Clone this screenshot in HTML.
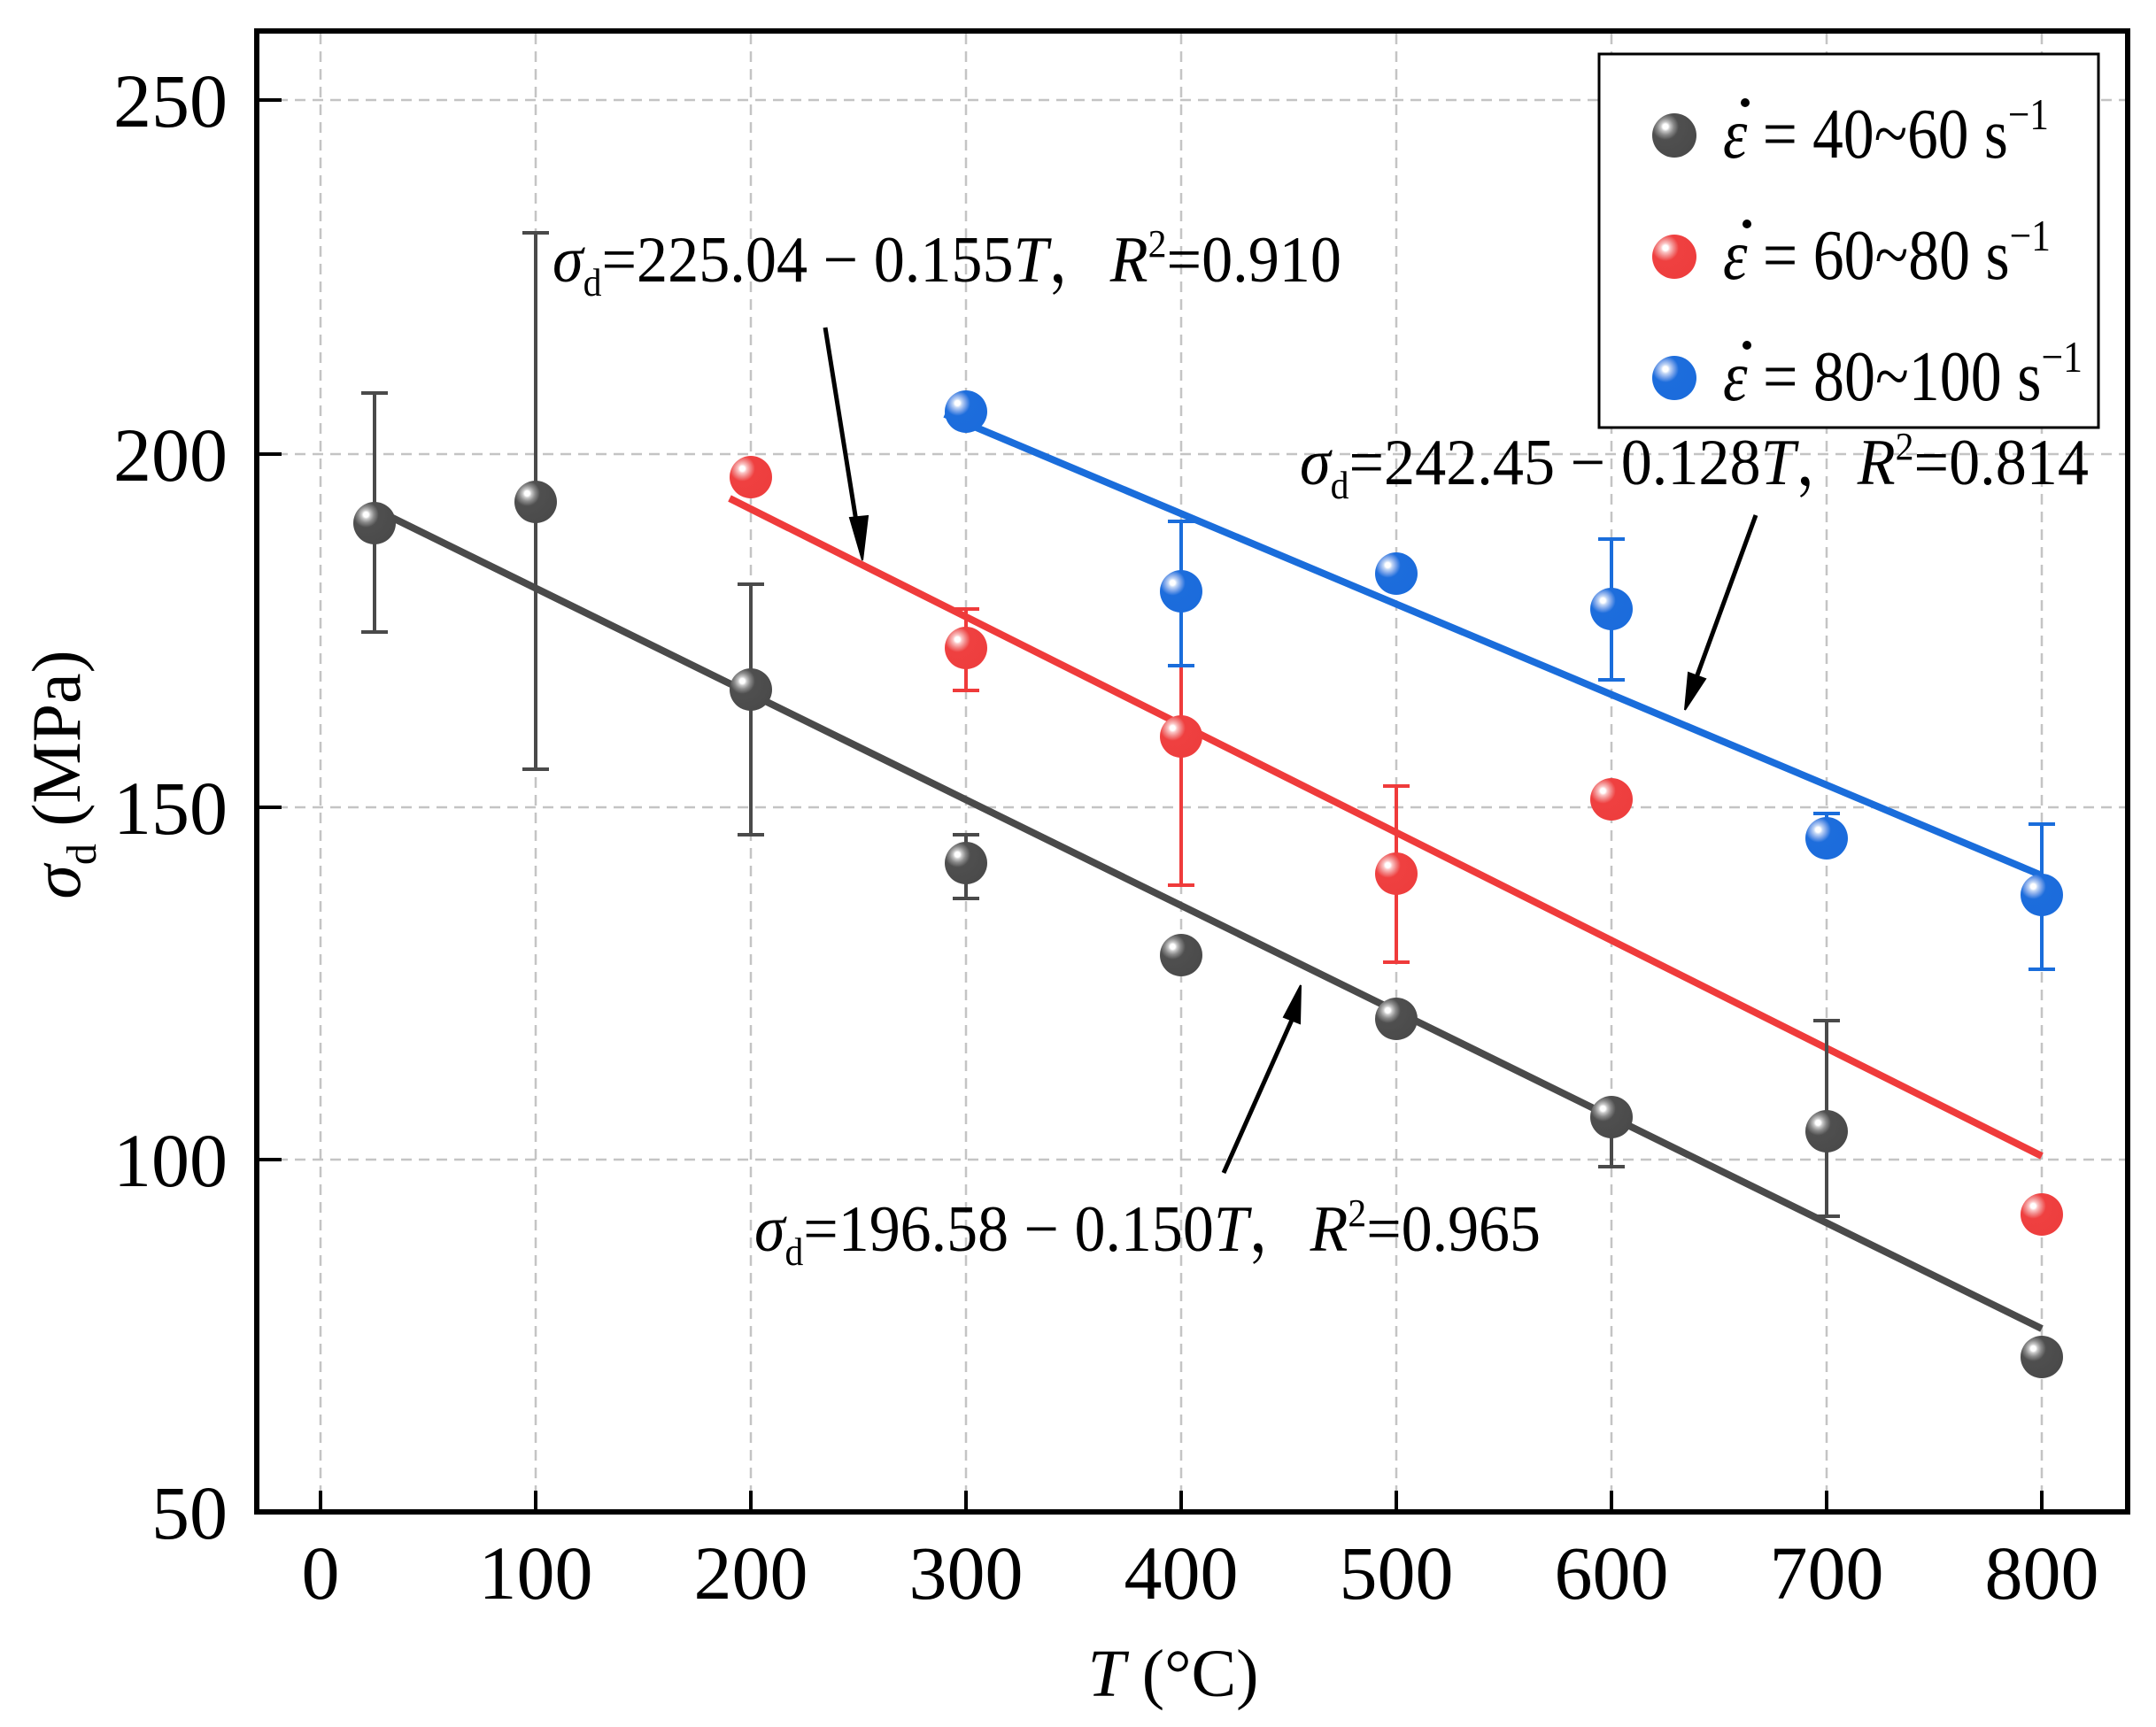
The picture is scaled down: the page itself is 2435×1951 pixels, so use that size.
<!DOCTYPE html>
<html><head><meta charset="utf-8"><style>html,body{margin:0;padding:0;background:#fff}svg{display:block}text{font-family:"Liberation Serif","Noto Serif CJK SC",serif}</style></head>
<body>
<svg width="2435" height="1951" viewBox="0 0 2435 1951" xmlns="http://www.w3.org/2000/svg">
<defs>
<radialGradient id="gk" cx="0.3" cy="0.3" r="0.75"><stop offset="0" stop-color="#fff"/><stop offset="0.08" stop-color="#fff"/><stop offset="0.14" stop-color="#c8c8c8"/><stop offset="0.25" stop-color="#8a8a8a"/><stop offset="0.4" stop-color="#4f4f4f"/><stop offset="1" stop-color="#4a4a4a"/></radialGradient>
<radialGradient id="gr" cx="0.3" cy="0.3" r="0.75"><stop offset="0" stop-color="#fff"/><stop offset="0.08" stop-color="#fff"/><stop offset="0.14" stop-color="#fbc5c5"/><stop offset="0.25" stop-color="#f28a8a"/><stop offset="0.4" stop-color="#ef4040"/><stop offset="1" stop-color="#ee3e3e"/></radialGradient>
<radialGradient id="gb" cx="0.3" cy="0.3" r="0.75"><stop offset="0" stop-color="#fff"/><stop offset="0.08" stop-color="#fff"/><stop offset="0.14" stop-color="#c2d6f5"/><stop offset="0.25" stop-color="#7ea6ea"/><stop offset="0.4" stop-color="#1d6ddc"/><stop offset="1" stop-color="#1b6cdc"/></radialGradient>
</defs>
<rect width="2435" height="1951" fill="#fff"/>
<g stroke="#c4c4c4" stroke-width="2.5" stroke-dasharray="12,8">
<line x1="362" y1="38" x2="362" y2="1708"/><line x1="605" y1="38" x2="605" y2="1708"/><line x1="848" y1="38" x2="848" y2="1708"/><line x1="1091" y1="38" x2="1091" y2="1708"/><line x1="1334" y1="38" x2="1334" y2="1708"/><line x1="1577" y1="38" x2="1577" y2="1708"/><line x1="1820" y1="38" x2="1820" y2="1708"/><line x1="2063" y1="38" x2="2063" y2="1708"/><line x1="2306" y1="38" x2="2306" y2="1708"/>
<line x1="293" y1="113" x2="2403" y2="113"/><line x1="293" y1="513" x2="2403" y2="513"/><line x1="293" y1="912" x2="2403" y2="912"/><line x1="293" y1="1310" x2="2403" y2="1310"/>
</g>
<line x1="423" y1="575" x2="2306" y2="1501" stroke="#4a4a4a" stroke-width="8"/>
<line x1="824" y1="563" x2="2306" y2="1306" stroke="#ef3b3b" stroke-width="8"/>
<line x1="1067" y1="468" x2="2306" y2="989" stroke="#1a6ddb" stroke-width="8"/>
<g stroke="#4a4a4a" stroke-width="4">
<path d="M423 444V714M408 444h30M408 714h30"/>
<path d="M605 263V869M590 263h30M590 869h30"/>
<path d="M848 660V943M833 660h30M833 943h30"/>
<path d="M1091 943V1015M1076 943h30M1076 1015h30"/>
<path d="M1820 1278V1318M1805 1278h30M1805 1318h30"/>
<path d="M2063 1153V1374M2048 1153h30M2048 1374h30"/>
</g>
<g stroke="#ef3b3b" stroke-width="4">
<path d="M1091 688V780M1076 688h30M1076 780h30"/>
<path d="M1334 752V1000M1319 1000h30"/>
<path d="M1577 888V1087M1562 888h30M1562 1087h30"/>
</g>
<g stroke="#1a6ddb" stroke-width="4">
<path d="M1334 589V752M1319 589h30M1319 752h30"/>
<path d="M1820 609V768M1805 609h30M1805 768h30"/>
<path d="M2063 919V955M2048 919h30M2048 955h30"/>
<path d="M2306 931V1095M2291 931h30M2291 1095h30"/>
</g>
<g fill="url(#gk)">
<circle cx="423" cy="591" r="24"/><circle cx="605" cy="567" r="24"/><circle cx="848" cy="779" r="24"/><circle cx="1091" cy="975" r="24"/><circle cx="1334" cy="1079" r="24"/><circle cx="1577" cy="1151" r="24"/><circle cx="1820" cy="1262" r="24"/><circle cx="2063" cy="1278" r="24"/><circle cx="2306" cy="1533" r="24"/>
</g>
<g fill="url(#gr)">
<circle cx="848" cy="539" r="24"/><circle cx="1091" cy="732" r="24"/><circle cx="1334" cy="832" r="24"/><circle cx="1577" cy="987" r="24"/><circle cx="1820" cy="903" r="24"/><circle cx="2306" cy="1372" r="24"/>
</g>
<g fill="url(#gb)">
<circle cx="1091" cy="465" r="24"/><circle cx="1334" cy="668" r="24"/><circle cx="1577" cy="648" r="24"/><circle cx="1820" cy="688" r="24"/><circle cx="2063" cy="947" r="24"/><circle cx="2306" cy="1011" r="24"/>
</g>
<g stroke="#000" stroke-width="5" fill="#000">
<line x1="932" y1="370" x2="968" y2="595"/><polygon points="974,633 960,585 980,583" stroke-width="2"/>
<line x1="1983" y1="582" x2="1915" y2="768"/><polygon points="1903,802 1907,760 1926,767" stroke-width="2"/>
<line x1="1382" y1="1325" x2="1460" y2="1150"/><polygon points="1469,1113 1450,1149 1468,1156" stroke-width="2"/>
</g>
<g font-size="74" fill="#000">
<text x="624" y="318" textLength="891" lengthAdjust="spacingAndGlyphs"><tspan font-style="italic">σ</tspan><tspan font-size="44" dy="16">d</tspan><tspan dy="-16">=225.04 − 0.155</tspan><tspan font-style="italic">T</tspan>，<tspan font-style="italic">R</tspan><tspan font-size="44" dy="-28">2</tspan><tspan dy="28">=0.910</tspan></text>
<text x="1468" y="547" textLength="891" lengthAdjust="spacingAndGlyphs"><tspan font-style="italic">σ</tspan><tspan font-size="44" dy="16">d</tspan><tspan dy="-16">=242.45 − 0.128</tspan><tspan font-style="italic">T</tspan>，<tspan font-style="italic">R</tspan><tspan font-size="44" dy="-28">2</tspan><tspan dy="28">=0.814</tspan></text>
<text x="852" y="1413" textLength="888" lengthAdjust="spacingAndGlyphs"><tspan font-style="italic">σ</tspan><tspan font-size="44" dy="16">d</tspan><tspan dy="-16">=196.58 − 0.150</tspan><tspan font-style="italic">T</tspan>，<tspan font-style="italic">R</tspan><tspan font-size="44" dy="-28">2</tspan><tspan dy="28">=0.965</tspan></text>
</g>
<rect x="1806" y="61" width="564" height="422" fill="#fff" stroke="#000" stroke-width="3"/>
<circle cx="1891" cy="153" r="25" fill="url(#gk)"/>
<circle cx="1891" cy="290" r="25" fill="url(#gr)"/>
<circle cx="1891" cy="427" r="25" fill="url(#gb)"/>
<g font-size="80" fill="#000">
<text x="1946" y="178" textLength="368" lengthAdjust="spacingAndGlyphs"><tspan font-style="italic">ε</tspan> = 40~60 s<tspan font-size="50" dy="-32">−1</tspan></text>
<text x="1946" y="315" textLength="370" lengthAdjust="spacingAndGlyphs"><tspan font-style="italic">ε</tspan> = 60~80 s<tspan font-size="50" dy="-32">−1</tspan></text>
<text x="1946" y="452" textLength="406" lengthAdjust="spacingAndGlyphs"><tspan font-style="italic">ε</tspan> = 80~100 s<tspan font-size="50" dy="-32">−1</tspan></text>
</g>
<g fill="#000"><circle cx="1971" cy="116" r="5"/><circle cx="1973" cy="253" r="5"/><circle cx="1973" cy="390" r="5"/></g>
<rect x="290" y="35" width="2113" height="1673" fill="none" stroke="#000" stroke-width="6"/>
<g stroke="#000" stroke-width="4">
<path d="M362 1708v-24M605 1708v-24M848 1708v-24M1091 1708v-24M1334 1708v-24M1577 1708v-24M1820 1708v-24M2063 1708v-24M2306 1708v-24"/>
<path d="M293 113h25M293 513h25M293 912h25M293 1310h25"/>
</g>
<g font-size="86" fill="#000" text-anchor="middle">
<text x="362" y="1806">0</text><text x="605" y="1806">100</text><text x="848" y="1806">200</text><text x="1091" y="1806">300</text><text x="1334" y="1806">400</text><text x="1577" y="1806">500</text><text x="1820" y="1806">600</text><text x="2063" y="1806">700</text><text x="2306" y="1806">800</text>
</g>
<g font-size="86" fill="#000" text-anchor="end">
<text x="257" y="143">250</text><text x="257" y="543">200</text><text x="257" y="942">150</text><text x="257" y="1340">100</text><text x="257" y="1738">50</text>
</g>
<text x="1325" y="1916" font-size="76" text-anchor="middle"><tspan font-style="italic">T</tspan> (°C)</text>
<text transform="translate(90,875) rotate(-90)" font-size="78" text-anchor="middle"><tspan font-style="italic">σ</tspan><tspan font-size="48" dy="18">d</tspan><tspan dy="-18">  (MPa)</tspan></text>
</svg>
</body></html>
